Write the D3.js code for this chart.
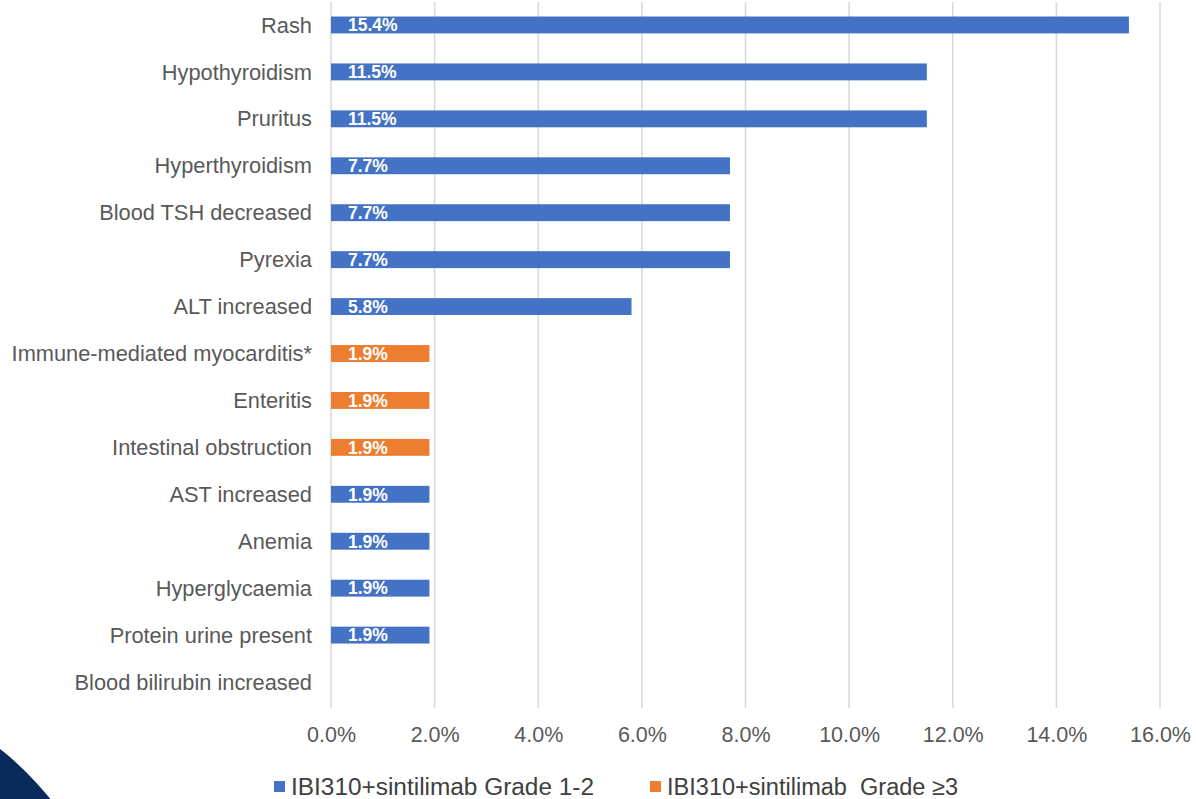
<!DOCTYPE html>
<html>
<head>
<meta charset="utf-8">
<script src="https://cdn.jsdelivr.net/npm/d3@7"></script>
<style>
  html, body { margin: 0; padding: 0; background: #fff; }
  svg { display: block; font-family: "Liberation Sans", Arial, sans-serif; }
</style>
</head>
<body>
<svg id="chart" width="1196" height="799"></svg>
<script>
// Adverse events, share of patients (%)
const categories = [
  "Rash", "Hypothyroidism", "Pruritus", "Hyperthyroidism", "Blood TSH decreased",
  "Pyrexia", "ALT increased", "Immune-mediated myocarditis*", "Enteritis",
  "Intestinal obstruction", "AST increased", "Anemia", "Hyperglycaemia",
  "Protein urine present", "Blood bilirubin increased"
];
const grade12 = [15.4, 11.5, 11.5, 7.7, 7.7, 7.7, 5.8, 0, 0, 0, 1.9, 1.9, 1.9, 1.9, 0];
const grade3plus = [0, 0, 0, 0, 0, 0, 0, 1.9, 1.9, 1.9, 0, 0, 0, 0, 0];
const xTicks = [0, 2, 4, 6, 8, 10, 12, 14, 16];
const seriesNames = ["IBI310+sintilimab Grade 1-2", "IBI310+sintilimab  Grade \u22653"];
const seriesColors = ["#4472C4", "#ED7D31"];

const svg = d3.select("#chart");

// Decorative navy corner
svg.append("circle")
  .attr("cx", -200).attr("cy", 1000).attr("r", 321)
  .attr("fill", "#0b2a5c");

const x = d3.scaleLinear().domain([0, 16]).range([331, 1160]);
const y = d3.scaleBand().domain(categories).range([1.5, 705.5])
  .paddingInner(0.64).paddingOuter(0.32);

// Vertical gridlines
svg.append("g").selectAll("line").data(xTicks).join("line")
  .attr("x1", d => x(d)).attr("x2", d => x(d))
  .attr("y1", 2).attr("y2", 708)
  .attr("stroke", "#d9d9d9").attr("stroke-width", 1.6);

// X axis labels
const xAxis = d3.axisBottom(x).tickValues(xTicks).tickSize(0).tickPadding(0)
  .tickFormat(d => d.toFixed(1) + "%");
const gx = svg.append("g").attr("transform", "translate(0,727)").call(xAxis);
gx.select(".domain").remove();
gx.selectAll("text").attr("font-size", 21.5).attr("fill", "#595959")
  .attr("font-family", "Liberation Sans, Arial, sans-serif").attr("dy", "0.71em");

// Category labels
svg.append("g").selectAll("text").data(categories).join("text")
  .attr("x", 312).attr("y", d => y(d) + y.bandwidth() / 2)
  .attr("dy", "0.35em").attr("text-anchor", "end")
  .attr("font-size", 21.8).attr("fill", "#595959")
  .text(d => d);

// Stacked bars
const rows = categories.map((c, i) => ({ cat: c, vals: [grade12[i], grade3plus[i]] }));
rows.forEach(r => {
  let acc = 0;
  r.segs = r.vals.map((v, k) => { const s = { k, v, x0: acc, x1: acc + v, cat: r.cat }; acc += v; return s; });
});
const segs = rows.flatMap(r => r.segs).filter(s => s.v > 0);

svg.append("g").selectAll("rect").data(segs).join("rect")
  .attr("x", d => x(d.x0)).attr("width", d => x(d.x1) - x(d.x0))
  .attr("y", d => y(d.cat)).attr("height", y.bandwidth())
  .attr("fill", d => seriesColors[d.k]);

// Value labels inside bars
svg.append("g").selectAll("text").data(segs).join("text")
  .attr("x", d => x(d.x0) + 17).attr("y", d => y(d.cat) + y.bandwidth() / 2)
  .attr("dy", "0.36em").attr("font-size", 17.5).attr("font-weight", "bold")
  .attr("fill", "#fff")
  .text(d => d.v.toFixed(1) + "%");

// Legend
const legendX = [274, 650];
const legendTextWidth = [303, 291];
const legend = svg.append("g");
seriesNames.forEach((name, i) => {
  legend.append("rect").attr("x", legendX[i]).attr("y", 781)
    .attr("width", 11).attr("height", 11).attr("fill", seriesColors[i]);
  legend.append("text").attr("x", legendX[i] + 17).attr("y", 787)
    .attr("dy", "0.36em").attr("font-size", 23.5).attr("fill", "#404040")
    .attr("textLength", legendTextWidth[i]).attr("lengthAdjust", "spacingAndGlyphs")
    .style("white-space", "pre")
    .text(name);
});
</script>
</body>
</html>
